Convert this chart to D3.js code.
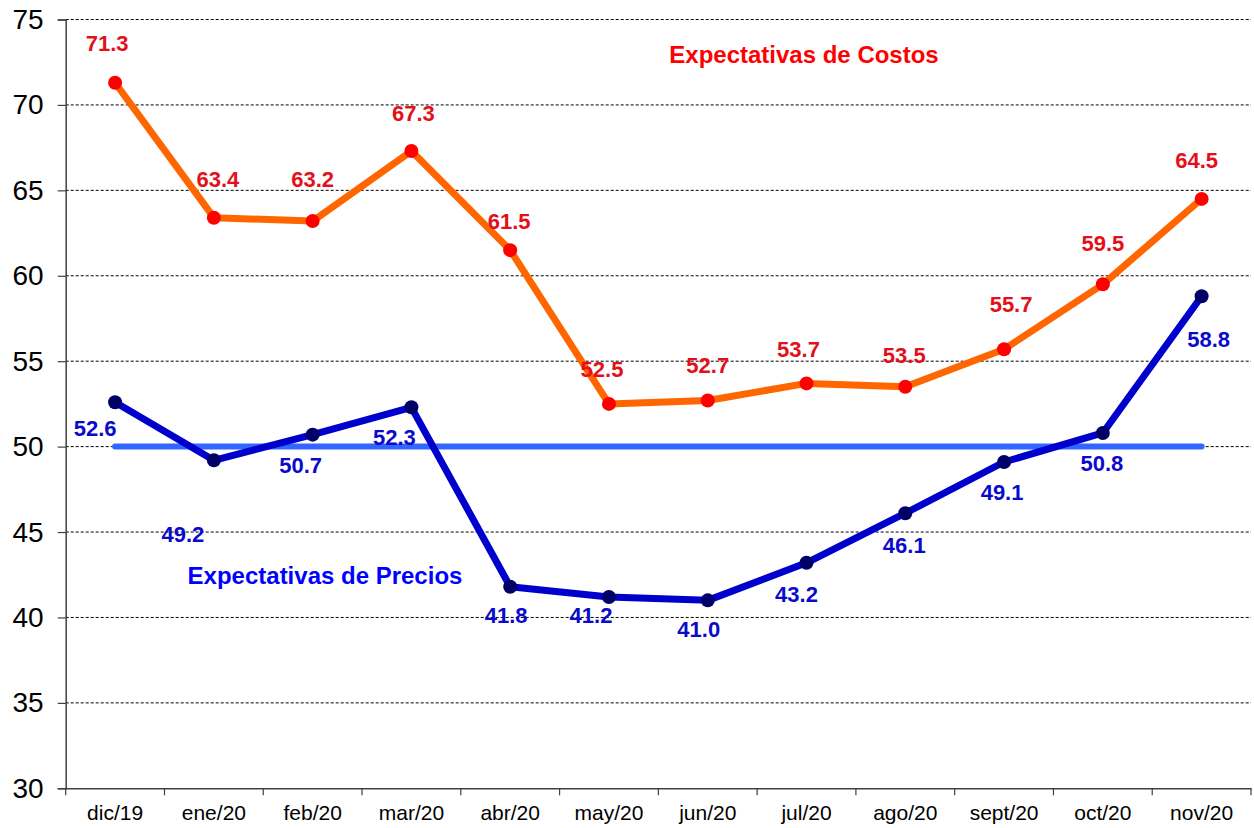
<!DOCTYPE html>
<html>
<head>
<meta charset="utf-8">
<script src="https://cdn.jsdelivr.net/npm/d3@7"></script>
<style>
  html, body { margin: 0; padding: 0; background: #fff; }
  svg { display: block; font-family: "Liberation Sans", Arial, sans-serif; }
</style>
</head>
<body>
<svg id="chart" width="1254" height="828"></svg>
<script>
// ---- Data ----
const categories = ["dic/19","ene/20","feb/20","mar/20","abr/20","may/20","jun/20","jul/20","ago/20","sept/20","oct/20","nov/20"];
const costos  = [71.3, 63.4, 63.2, 67.3, 61.5, 52.5, 52.7, 53.7, 53.5, 55.7, 59.5, 64.5];
const precios = [52.6, 49.2, 50.7, 52.3, 41.8, 41.2, 41.0, 43.2, 46.1, 49.1, 50.8, 58.8];
const referencia = 50;
const yTicks = [30, 35, 40, 45, 50, 55, 60, 65, 70, 75];
const costosTitle = "Expectativas de Costos";
const preciosTitle = "Expectativas de Precios";

// ---- Layout (label nudges, in px) ----
const costosLabelOffsets  = [[-8,-32],[4,-31],[0,-34],[2,-30],[-1,-21],[-7,-27],[0,-27],[-8,-26],[-1,-24],[7,-37],[0,-33],[-5,-31]];
const preciosLabelOffsets = [[-20,34],[-31,82],[-12,38],[-17,38],[-4,36],[-18,26],[-9,37],[-10,39],[-1,40],[-2,38],[-1,38],[7,51]];

const svg = d3.select("#chart");
const plotLeft = 65.7, plotRight = 1251, plotTop = 19.5, plotBottom = 788.3;

const x = d3.scaleBand().domain(categories).range([plotLeft, plotRight]);
const y = d3.scaleLinear().domain([30, 75]).range([plotBottom, plotTop]);
const cx = d => x(d) + x.bandwidth() / 2;

// gridlines
svg.append("g").selectAll("line")
  .data(yTicks.filter(t => t > 30))
  .join("line")
  .attr("x1", plotLeft).attr("x2", plotRight)
  .attr("y1", d => y(d)).attr("y2", d => y(d))
  .attr("stroke", "#000").attr("stroke-width", 1)
  .attr("stroke-dasharray", "3,2");

// y axis
const yAxis = svg.append("g")
  .attr("transform", `translate(${plotLeft},0)`)
  .call(d3.axisLeft(y).tickValues(yTicks).tickSize(8).tickPadding(14).tickFormat(d3.format("d")));
yAxis.select(".domain").attr("stroke", "#404040").attr("stroke-width", 1.5);
yAxis.selectAll(".tick line").attr("stroke", "#404040").attr("stroke-width", 1.2);
yAxis.selectAll(".tick text")
  .attr("font-size", 28).attr("fill", "#000")
  .attr("font-family", "'Liberation Sans', Arial, sans-serif");

// x axis
const xAxis = svg.append("g")
  .attr("transform", `translate(0,${plotBottom})`)
  .call(d3.axisBottom(x).tickSize(0).tickPadding(17));
xAxis.select(".domain").attr("stroke", "#404040").attr("stroke-width", 1.5);
xAxis.selectAll(".tick text")
  .attr("font-size", 21).attr("fill", "#000")
  .attr("font-family", "'Liberation Sans', Arial, sans-serif");
// boundary ticks
const bounds = categories.map(c => x(c)).concat([x(categories[categories.length - 1]) + x.bandwidth()]);
svg.append("g").selectAll("line")
  .data(bounds).join("line")
  .attr("x1", d => d).attr("x2", d => d)
  .attr("y1", plotBottom).attr("y2", plotBottom + 7)
  .attr("stroke", "#404040").attr("stroke-width", 1.2);

// reference line at 50
const refLine = d3.line().x(d => cx(d)).y(() => y(referencia));
svg.append("path")
  .datum(categories)
  .attr("d", refLine)
  .attr("fill", "none").attr("stroke", "#3366FF").attr("stroke-width", 6)
  .attr("stroke-linecap", "round");

const line = d3.line().x((d, i) => cx(categories[i])).y(d => y(d));

// costos series
svg.append("path").datum(costos)
  .attr("d", line).attr("fill", "none")
  .attr("stroke", "#FF6600").attr("stroke-width", 7).attr("stroke-linejoin", "round");
svg.append("g").selectAll("circle").data(costos).join("circle")
  .attr("cx", (d, i) => cx(categories[i])).attr("cy", d => y(d)).attr("r", 7)
  .attr("fill", "#FF0000");

// precios series
svg.append("path").datum(precios)
  .attr("d", line).attr("fill", "none")
  .attr("stroke", "#0000CC").attr("stroke-width", 7).attr("stroke-linejoin", "round");
svg.append("g").selectAll("circle").data(precios).join("circle")
  .attr("cx", (d, i) => cx(categories[i])).attr("cy", d => y(d)).attr("r", 7)
  .attr("fill", "#000066");

// labels
svg.append("g").selectAll("text").data(costos).join("text")
  .attr("x", (d, i) => cx(categories[i]) + costosLabelOffsets[i][0])
  .attr("y", (d, i) => y(d) + costosLabelOffsets[i][1])
  .attr("text-anchor", "middle").attr("font-size", 22).attr("font-weight", "bold")
  .attr("fill", "#E3101A")
  .text(d => d3.format(".1f")(d));

svg.append("g").selectAll("text").data(precios).join("text")
  .attr("x", (d, i) => cx(categories[i]) + preciosLabelOffsets[i][0])
  .attr("y", (d, i) => y(d) + preciosLabelOffsets[i][1])
  .attr("text-anchor", "middle").attr("font-size", 22).attr("font-weight", "bold")
  .attr("fill", "#0A0ACC")
  .text(d => d3.format(".1f")(d));

// series titles
svg.append("text").attr("x", 804).attr("y", 63)
  .attr("text-anchor", "middle").attr("font-size", 24).attr("font-weight", "bold")
  .attr("fill", "#FF0000").text(costosTitle);
svg.append("text").attr("x", 325).attr("y", 584)
  .attr("text-anchor", "middle").attr("font-size", 24).attr("font-weight", "bold")
  .attr("fill", "#0000FF").text(preciosTitle);
</script>
</body>
</html>
